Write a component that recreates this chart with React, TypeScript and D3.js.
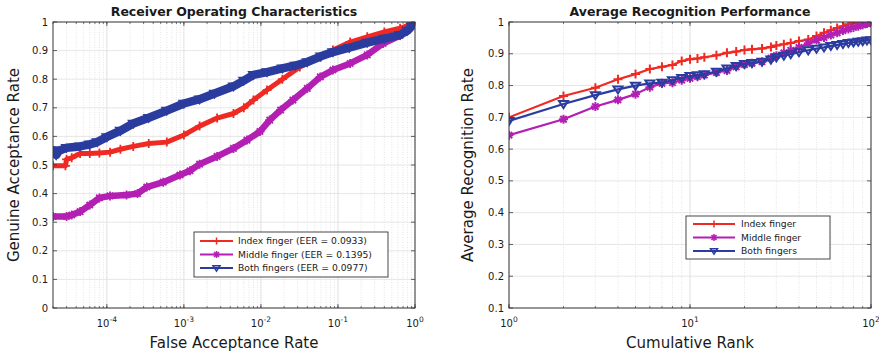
import React from 'react';
import * as d3 from 'd3';

// ROC operating points (false acceptance rate, genuine acceptance rate)
const indexFar = [2.0e-5, 2.9e-5, 3.0e-5, 3.5e-5, 4.5e-5, 6e-5, 8e-5, 1.1e-4, 1.5e-4, 2.2e-4, 3.5e-4, 6e-4, 1e-3, 1.6e-3, 2.7e-3, 4.4e-3, 6e-3, 8e-3, 1.2e-2, 1.9e-2, 3.2e-2, 5.9e-2, 8.6e-2, 0.144, 0.24, 0.4, 0.64, 0.85, 1.0];
const indexGar = [0.497, 0.497, 0.52, 0.525, 0.54, 0.54, 0.542, 0.545, 0.555, 0.565, 0.575, 0.58, 0.605, 0.636, 0.664, 0.68, 0.70, 0.727, 0.762, 0.80, 0.843, 0.878, 0.902, 0.93, 0.948, 0.965, 0.978, 0.99, 1.0];

const middleFar = [2.0e-5, 3.0e-5, 3.5e-5, 4.5e-5, 6e-5, 8e-5, 1.1e-4, 1.8e-4, 2.5e-4, 3.3e-4, 5.4e-4, 8.9e-4, 1.2e-3, 1.6e-3, 2.7e-3, 4.4e-3, 6.6e-3, 9.7e-3, 1.3e-2, 1.8e-2, 2.6e-2, 4e-2, 5.9e-2, 8.6e-2, 0.144, 0.24, 0.385, 0.64, 0.85, 1.0];
const middleGar = [0.32, 0.32, 0.325, 0.337, 0.36, 0.385, 0.392, 0.395, 0.40, 0.423, 0.44, 0.465, 0.48, 0.503, 0.53, 0.558, 0.587, 0.617, 0.657, 0.692, 0.727, 0.768, 0.808, 0.832, 0.855, 0.885, 0.925, 0.953, 0.98, 1.0];

const bothFar = [2.0e-5, 2.2e-5, 2.4e-5, 3.0e-5, 4.5e-5, 6e-5, 7.5e-5, 1e-4, 1.5e-4, 2.2e-4, 3.5e-4, 6e-4, 1e-3, 1.6e-3, 2.5e-3, 4.4e-3, 6e-3, 8e-3, 1.2e-2, 1.9e-2, 2.8e-2, 4e-2, 6e-2, 8.6e-2, 0.14, 0.24, 0.4, 0.64, 0.8, 0.9, 1.0];
const bothGar = [0.552, 0.535, 0.55, 0.56, 0.565, 0.572, 0.58, 0.598, 0.62, 0.645, 0.665, 0.69, 0.715, 0.73, 0.75, 0.775, 0.795, 0.815, 0.825, 0.838, 0.848, 0.86, 0.88, 0.895, 0.91, 0.928, 0.942, 0.955, 0.97, 0.985, 1.0];

// Cumulative match characteristic (rank, recognition rate)
const cmcRanks = [1, 2, 3, 4, 5, 6, 7, 8, 9, 10, 11, 12, 14, 16, 18, 20, 22, 25, 28, 30, 33, 36, 40, 45, 50, 55, 60, 65, 70, 75, 80, 85, 90, 95, 100];
const indexCmc = [0.700, 0.767, 0.793, 0.820, 0.836, 0.852, 0.859, 0.865, 0.877, 0.883, 0.885, 0.889, 0.895, 0.903, 0.907, 0.912, 0.914, 0.917, 0.921, 0.926, 0.930, 0.934, 0.940, 0.945, 0.956, 0.966, 0.974, 0.981, 0.987, 0.993, 0.997, 0.999, 1.0, 1.0, 1.0];
const middleCmc = [0.644, 0.694, 0.734, 0.755, 0.773, 0.795, 0.807, 0.809, 0.817, 0.823, 0.828, 0.833, 0.841, 0.847, 0.859, 0.866, 0.870, 0.875, 0.886, 0.894, 0.903, 0.911, 0.920, 0.933, 0.943, 0.951, 0.959, 0.966, 0.973, 0.978, 0.983, 0.987, 0.991, 0.995, 0.998];
const bothCmc = [0.689, 0.742, 0.770, 0.788, 0.800, 0.807, 0.809, 0.817, 0.824, 0.830, 0.833, 0.836, 0.844, 0.854, 0.862, 0.868, 0.871, 0.875, 0.882, 0.889, 0.894, 0.899, 0.905, 0.911, 0.916, 0.920, 0.925, 0.928, 0.931, 0.934, 0.936, 0.938, 0.940, 0.942, 0.943];

const seriesNames = ['Index finger', 'Middle finger', 'Both fingers'];
const eerValues = ['0.0933', '0.1395', '0.0977'];
const garTicks = [0, 0.1, 0.2, 0.3, 0.4, 0.5, 0.6, 0.7, 0.8, 0.9, 1];
const cmcRateTicks = [0.1, 0.2, 0.3, 0.4, 0.5, 0.6, 0.7, 0.8, 0.9, 1];
const farDecades = [-4, -3, -2, -1, 0];
const rankDecades = [0, 1, 2];

const COLORS = ['#ee2a22', '#b31fb3', '#2b3c9f'];
const MARKERS = ['plus', 'asterisk', 'triangle'];
const FONT = '"DejaVu Sans", sans-serif';
const AXIS = '#3a3a3a';
const TEXT = '#1a1a1a';

function markerPath(kind: string, r: number): string {
  if (kind === 'plus') return `M${-r},0H${r}M0,${-r}V${r}`;
  if (kind === 'asterisk') {
    const d = r * 0.707;
    return `M${-r},0H${r}M0,${-r}V${r}M${-d},${-d}L${d},${d}M${-d},${d}L${d},${-d}`;
  }
  return `M${-r},${-r * 0.65}L${r},${-r * 0.65}L0,${r * 0.9}Z`;
}

type Series = { xs: number[]; ys: number[]; color: string; marker: string; width: number; size: number; mw: number };

type PanelProps = {
  id: string;
  x: d3.ScaleLogarithmic<number, number>;
  y: d3.ScaleLinear<number, number>;
  yTicks: number[];
  decades: number[];
  title: string;
  xLabel: string;
  yLabel: string;
  yLabelX: number;
  series: Series[];
  legend: { x: number; y: number; w: number; h: number; lineX0: number; lineX1: number; textX: number; rows: number[]; labels: string[] };
};

function Panel(p: PanelProps) {
  const [x0, x1] = p.x.range();
  const [y0, y1] = p.y.range(); // y0 bottom, y1 top
  const [d0, d1] = p.x.domain();
  const minor: number[] = [];
  for (let e = Math.floor(Math.log10(d0)); e <= Math.ceil(Math.log10(d1)); e++) {
    for (let k = 1; k <= 9; k++) {
      const v = k * Math.pow(10, e);
      if (v >= d0 * 0.999 && v <= d1 * 1.001) minor.push(v);
    }
  }
  const clip = `clip-${p.id}`;
  const cx = (x0 + x1) / 2;
  const cy = (y0 + y1) / 2;
  return (
    <g>
      <defs>
        <clipPath id={clip}>
          <rect x={x0} y={y1} width={x1 - x0} height={y0 - y1} />
        </clipPath>
      </defs>
      <rect x={x0} y={y1} width={x1 - x0} height={y0 - y1} fill="#fff" />
      {minor.map((v, i) => (
        <line key={'mg' + i} x1={p.x(v)} x2={p.x(v)} y1={y1} y2={y0} stroke="#d4d4d4" strokeWidth={0.6} strokeDasharray="1,1.5" />
      ))}
      {p.decades.map((e) => (
        <line key={'gx' + e} x1={p.x(Math.pow(10, e))} x2={p.x(Math.pow(10, e))} y1={y1} y2={y0} stroke="#e0e0e0" strokeWidth={0.8} />
      ))}
      {p.yTicks.map((t) => (
        <line key={'gy' + t} x1={x0} x2={x1} y1={p.y(t)} y2={p.y(t)} stroke="#e0e0e0" strokeWidth={0.8} />
      ))}
      <g clipPath={`url(#${clip})`}>
        {p.series.map((s, si) => {
          const pts = s.xs.map((xv, i) => [p.x(xv), p.y(s.ys[i])] as [number, number]);
          const path = d3.line()(pts) || '';
          return (
            <g key={'s' + si}>
              <path d={path} fill="none" stroke={s.color} strokeWidth={s.width} strokeLinejoin="round" strokeLinecap="round" />
              {pts.map(([px, py], i) => (
                <path key={i} transform={`translate(${px},${py})`} d={markerPath(s.marker, s.size)} fill="none" stroke={s.color} strokeWidth={s.mw} />
              ))}
            </g>
          );
        })}
      </g>
      {/* ticks, pointing inward on all four sides */}
      {p.yTicks.map((t) => (
        <g key={'ty' + t}>
          <line x1={x0} x2={x0 + 4} y1={p.y(t)} y2={p.y(t)} stroke={AXIS} strokeWidth={0.8} />
          <line x1={x1} x2={x1 - 4} y1={p.y(t)} y2={p.y(t)} stroke={AXIS} strokeWidth={0.8} />
          <text x={x0 - 5} y={p.y(t) + 3.5} textAnchor="end" fontSize={10} fontFamily={FONT} fill={TEXT}>
            {d3.format('~g')(t)}
          </text>
        </g>
      ))}
      {minor.map((v, i) => (
        <g key={'tm' + i}>
          <line x1={p.x(v)} x2={p.x(v)} y1={y0} y2={y0 - 2} stroke={AXIS} strokeWidth={0.7} />
          <line x1={p.x(v)} x2={p.x(v)} y1={y1} y2={y1 + 2} stroke={AXIS} strokeWidth={0.7} />
        </g>
      ))}
      {p.decades.map((e) => {
        const xv = p.x(Math.pow(10, e));
        return (
          <g key={'tx' + e}>
            <line x1={xv} x2={xv} y1={y0} y2={y0 - 4} stroke={AXIS} strokeWidth={0.8} />
            <line x1={xv} x2={xv} y1={y1} y2={y1 + 4} stroke={AXIS} strokeWidth={0.8} />
            <text x={xv} y={y0 + 19} textAnchor="middle" fontFamily={FONT} fill={TEXT}>
              <tspan fontSize={10}>10</tspan>
              <tspan fontSize={7.5} dy={-5}>{e < 0 ? '-' + Math.abs(e) : String(e)}</tspan>
            </text>
          </g>
        );
      })}
      <rect x={x0} y={y1} width={x1 - x0} height={y0 - y1} fill="none" stroke={AXIS} strokeWidth={1} />
      <text x={cx} y={16} textAnchor="middle" fontSize={12.5} fontWeight="bold" fontFamily={FONT} fill={TEXT}>
        {p.title}
      </text>
      <text x={cx} y={y0 + 40} textAnchor="middle" fontSize={15} fontFamily={FONT} fill={TEXT}>
        {p.xLabel}
      </text>
      <text transform={`translate(${p.yLabelX},${cy}) rotate(-90)`} textAnchor="middle" fontSize={15} fontFamily={FONT} fill={TEXT}>
        {p.yLabel}
      </text>
      {/* legend */}
      <rect x={p.legend.x} y={p.legend.y} width={p.legend.w} height={p.legend.h} fill="#fff" stroke="#333" strokeWidth={0.9} />
      {p.legend.labels.map((lab, i) => {
        const s = p.series[i];
        const ry = p.legend.rows[i];
        const mx = (p.legend.lineX0 + p.legend.lineX1) / 2;
        return (
          <g key={'lg' + i}>
            <line x1={p.legend.lineX0} x2={p.legend.lineX1} y1={ry} y2={ry} stroke={s.color} strokeWidth={2} />
            <path transform={`translate(${mx},${ry})`} d={markerPath(s.marker, 3.5)} fill="none" stroke={s.color} strokeWidth={1.5} />
            <text x={p.legend.textX} y={ry + 3.2} fontSize={9.2} fontFamily={FONT} fill={TEXT}>
              {lab}
            </text>
          </g>
        );
      })}
    </g>
  );
}

export default function App() {
  const xRoc = d3.scaleLog().domain([2e-5, 1]).range([53, 415]);
  const yRoc = d3.scaleLinear().domain([0, 1]).range([308, 22]);
  const xCmc = d3.scaleLog().domain([1, 100]).range([509, 871]);
  const yCmc = d3.scaleLinear().domain([0.1, 1]).range([308, 22]);

  const rocSeries: Series[] = [
    { xs: indexFar, ys: indexGar, color: COLORS[0], marker: MARKERS[0], width: 5, size: 4.5, mw: 1.8 },
    { xs: middleFar, ys: middleGar, color: COLORS[1], marker: MARKERS[1], width: 6.5, size: 4.5, mw: 1.8 },
    { xs: bothFar, ys: bothGar, color: COLORS[2], marker: MARKERS[2], width: 8.5, size: 4.5, mw: 1.8 },
  ];
  const cmcSeries: Series[] = [
    { xs: cmcRanks, ys: indexCmc, color: COLORS[0], marker: MARKERS[0], width: 2.2, size: 4.5, mw: 2 },
    { xs: cmcRanks, ys: middleCmc, color: COLORS[1], marker: MARKERS[1], width: 2.2, size: 4.5, mw: 2 },
    { xs: cmcRanks, ys: bothCmc, color: COLORS[2], marker: MARKERS[2], width: 2.2, size: 4.5, mw: 2 },
  ];

  return (
    <svg width={879} height={357} style={{ position: 'absolute', left: 0, top: 0, background: '#fff' }}>
      <rect width={879} height={357} fill="#fff" />
      <Panel
        id="roc"
        x={xRoc}
        y={yRoc}
        yTicks={garTicks}
        decades={farDecades}
        title="Receiver Operating Characteristics"
        xLabel="False Acceptance Rate"
        yLabel="Genuine Acceptance Rate"
        yLabelX={19}
        series={rocSeries}
        legend={{
          x: 194, y: 232, w: 194, h: 45, lineX0: 200, lineX1: 233, textX: 238,
          rows: [241, 254.5, 268],
          labels: seriesNames.map((n, i) => `${n} (EER = ${eerValues[i]})`),
        }}
      />
      <Panel
        id="cmc"
        x={xCmc}
        y={yCmc}
        yTicks={cmcRateTicks}
        decades={rankDecades}
        title="Average Recognition Performance"
        xLabel="Cumulative Rank"
        yLabel="Average Recognition Rate"
        yLabelX={473}
        series={cmcSeries}
        legend={{
          x: 686, y: 216, w: 144, h: 43, lineX0: 693, lineX1: 735, textX: 741,
          rows: [224, 237.5, 251],
          labels: seriesNames,
        }}
      />
    </svg>
  );
}
